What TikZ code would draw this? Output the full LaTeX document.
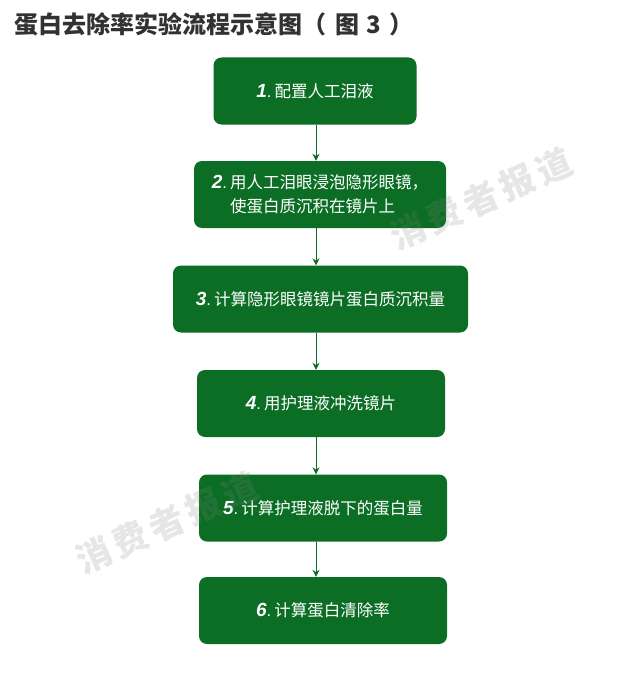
\documentclass[tikz,border=0pt]{standalone}
\usepackage{fontspec}
\setmainfont{Noto Sans CJK SC}
\newfontfamily\numfont{Liberation Sans}
\usepackage{tikz}
\usetikzlibrary{arrows.meta}

\definecolor{boxgreen}{RGB}{11,110,36}
\definecolor{titlegray}{RGB}{50,50,50}
\definecolor{markgray}{RGB}{130,130,130}
\newcommand{\stepfont}{\fontsize{16.5}{24}\selectfont}
\newcommand{\markfont}{\fontsize{35}{35}\selectfont\bfseries}
\newcommand{\stepno}[1]{{\fontsize{19}{24}\selectfont\numfont\bfseries\itshape #1}{\numfont.}\hspace{3pt}}
\newcommand{\marktext}{消\hspace{5pt}费\hspace{5pt}者\hspace{5pt}报\hspace{5pt}道}

\begin{document}
\begin{tikzpicture}[x=1pt, y=-1pt,
    stepbox/.style={shape=rectangle, rounded corners=8pt, fill=boxgreen, text=white,
        minimum height=67pt, inner sep=0pt, font=\stepfont},
    flow/.style={draw=boxgreen, line width=0.9pt, -{Stealth[length=7pt,width=7pt]}},
    watermark/.style={text=markgray, text opacity=0.2, font=\markfont, rotate=24}]
    \useasboundingbox[fill=white] (0,0) rectangle (641,677);
    \node[anchor=west, text=titlegray, font=\fontsize{24}{24}\selectfont\bfseries] (title) at (11,24)
        {蛋白去除率实验流程示意图（\hspace{9pt}图\hspace{7pt}3\hspace{8pt}）};
    \coordinate (axis) at (316,0);
    \node[stepbox, minimum width=203pt] (prep) at (315,91) {\stepno{1}配置人工泪液};
    \node[stepbox, minimum width=252pt, align=left] (soak) at (320,194.5)
        {\stepno{2}用人工泪眼浸泡隐形眼镜，\\\phantom{\stepno{2}}使蛋白质沉积在镜片上};
    \node[stepbox, minimum width=295pt] (weigh) at (320.5,299) {\stepno{3}计算隐形眼镜镜片蛋白质沉积量};
    \node[stepbox, minimum width=248pt] (rinse) at (321,403.5) {\stepno{4}用护理液冲洗镜片};
    \node[stepbox, minimum width=248pt] (residue) at (323,508) {\stepno{5}计算护理液脱下的蛋白量};
    \node[stepbox, minimum width=248pt] (rate) at (323,610.5) {\stepno{6}计算蛋白清除率};
    \draw[flow] (prep.south -| axis) -- (soak.north -| axis);
    \draw[flow] (soak.south -| axis) -- (weigh.north -| axis);
    \draw[flow] (weigh.south -| axis) -- (rinse.north -| axis);
    \draw[flow] (rinse.south -| axis) -- (residue.north -| axis);
    \draw[flow] (residue.south -| axis) -- (rate.north -| axis);
    % watermarks over the chart
    \node[watermark] (markA) at (481,199) {\marktext};
    \node[watermark] (markB) at (167,523) {\marktext};
\end{tikzpicture}
\end{document}
